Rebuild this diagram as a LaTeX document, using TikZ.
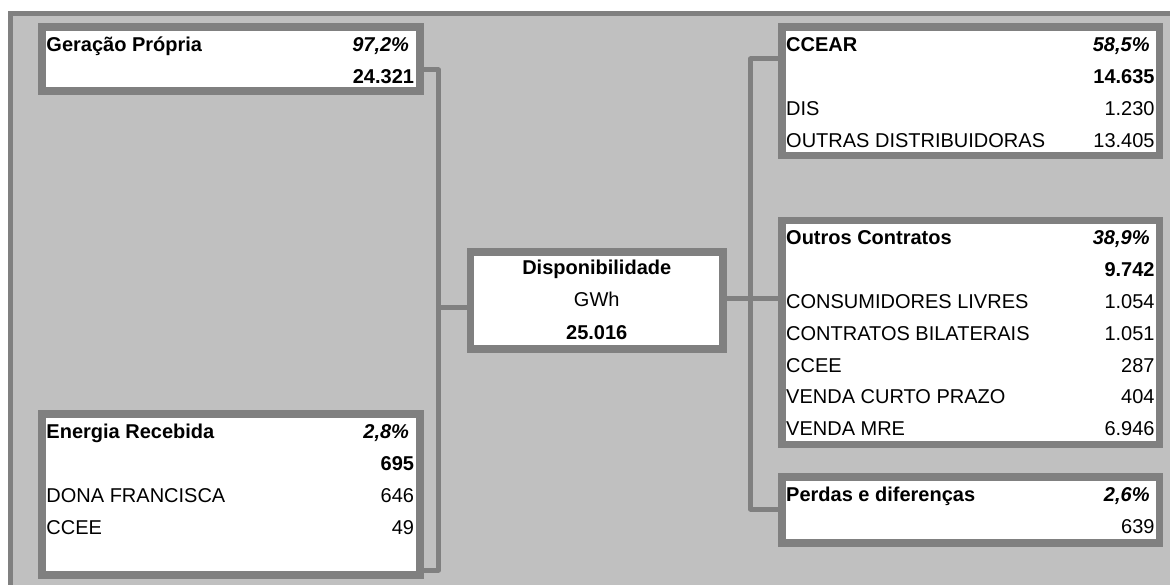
\documentclass[tikz,border=0pt]{standalone}
\usepackage{fontspec}
\setmainfont{Liberation Sans}
\usepackage{tikz}
\definecolor{rim}{HTML}{808080}
\definecolor{panel}{HTML}{C0C0C0}
\newcommand{\pct}[1]{\textbf{\textit{#1}}\kern5pt}

\begin{document}
\begin{tikzpicture}[x=1pt, y=-1pt,
  box/.style={draw=rim, line width=7.5pt, fill=white, anchor=north west, inner sep=0pt, outer sep=0pt},
  lcell/.style={anchor=base west, inner sep=0pt, font=\fontsize{20}{24}\selectfont},
  rcell/.style={anchor=base east, inner sep=0pt, font=\fontsize{20}{24}\selectfont},
  ccell/.style={anchor=base, inner sep=0pt, font=\fontsize{20}{24}\selectfont},
  conn/.style={draw=rim, line width=5pt, line cap=round, line join=round}
]
  \useasboundingbox (0,0) rectangle (1170,585);

  % Panel
  \fill[panel] (10.8,13.5) rectangle (1175,590);
  \draw[rim, line width=5pt] (10.8,590) -- (10.8,13.5) -- (1175,13.5);

  % Left boxes
  \node[box, minimum width=378.2pt, minimum height=64.2pt] (ger) at (42,27) {};
  \node[box, minimum width=378.2pt, minimum height=161pt] (ene) at (42,413.75) {};

  % Centre
  \node[box, minimum width=252.5pt, minimum height=97pt] (disp) at (470.5,252) {};

  % Right boxes
  \node[box, minimum width=377.5pt, minimum height=128.5pt] (ccear) at (781.75,27) {};
  \node[box, minimum width=377.5pt, minimum height=224pt] (outros) at (781.75,220.5) {};
  \node[box, minimum width=377.5pt, minimum height=66pt] (perdas) at (781.75,477) {};

  % Rows
  \foreach \lt/\rt [count=\i] in {{\textbf{Geração Própria}}/{\pct{97,2\%}}, {}/{\textbf{24.321}}} {
    \node[lcell] (ger-l\i) at ([xshift=4.25pt, yshift={-24.3pt-32pt*(\i-1)}]ger.north west) {\lt};
    \node[rcell] (ger-r\i) at ([xshift=-6pt, yshift={-24.3pt-32pt*(\i-1)}]ger.north east) {\rt};
  }
  \foreach \lt/\rt [count=\i] in {{\textbf{Energia Recebida}}/{\pct{2,8\%}}, {}/{\textbf{695}},
      DONA FRANCISCA/646, CCEE/49} {
    \node[lcell] (ene-l\i) at ([xshift=4.25pt, yshift={-24.3pt-32pt*(\i-1)}]ene.north west) {\lt};
    \node[rcell] (ene-r\i) at ([xshift=-6pt, yshift={-24.3pt-32pt*(\i-1)}]ene.north east) {\rt};
  }
  \foreach \ct [count=\i] in {{\textbf{Disponibilidade}}, GWh, {\textbf{25.016}}} {
    \node[ccell] (disp-c\i) at ([yshift={-23pt-32pt*(\i-1)}]disp.north) {\ct};
  }
  \foreach \lt/\rt [count=\i] in {{\textbf{CCEAR}}/{\pct{58,5\%}}, {}/{\textbf{14.635}},
      DIS/1.230, OUTRAS DISTRIBUIDORAS/13.405} {
    \node[lcell] (ccear-l\i) at ([xshift=4.25pt, yshift={-24.3pt-32pt*(\i-1)}]ccear.north west) {\lt};
    \node[rcell] (ccear-r\i) at ([xshift=-4.5pt, yshift={-24.3pt-32pt*(\i-1)}]ccear.north east) {\rt};
  }
  \foreach \lt/\rt [count=\i] in {{\textbf{Outros Contratos}}/{\pct{38,9\%}}, {}/{\textbf{9.742}},
      CONSUMIDORES LIVRES/1.054, CONTRATOS BILATERAIS/1.051, CCEE/287,
      VENDA CURTO PRAZO/404, VENDA MRE/6.946} {
    \node[lcell] (outros-l\i) at ([xshift=4.25pt, yshift={-24.3pt-31.8pt*(\i-1)}]outros.north west) {\lt};
    \node[rcell] (outros-r\i) at ([xshift=-4.5pt, yshift={-24.3pt-31.8pt*(\i-1)}]outros.north east) {\rt};
  }
  \foreach \lt/\rt [count=\i] in {{\textbf{Perdas e diferenças}}/{\pct{2,6\%}}, {}/639} {
    \node[lcell] (perdas-l\i) at ([xshift=4.25pt, yshift={-24.3pt-32pt*(\i-1)}]perdas.north west) {\lt};
    \node[rcell] (perdas-r\i) at ([xshift=-4.5pt, yshift={-24.3pt-32pt*(\i-1)}]perdas.north east) {\rt};
  }

  % Connectors
  \coordinate (lbus) at (438.5,0);
  \coordinate (rbus) at (750.5,0);
  \coordinate (ger-out) at ([yshift=-10.9pt]ger.east);
  \coordinate (ene-out) at ([yshift=4.75pt]ene.south east);
  \coordinate (disp-in) at ([yshift=-7pt]disp.west);
  \coordinate (disp-out) at ([yshift=2pt]disp.east);
  \coordinate (ccear-in) at ([yshift=32.25pt]ccear.west);
  \coordinate (outros-in) at (outros.west |- disp-out);
  \coordinate (perdas-in) at ([yshift=1pt]perdas.west);

  \draw[conn] (ger-out) -| (lbus |- disp-in) -- (disp-in);
  \draw[conn] (ene-out) -| (lbus |- disp-in) -- (disp-in);
  \draw[conn] (disp-out) -| (rbus |- ccear-in) -- (ccear-in);
  \draw[conn] (disp-out) -- (outros-in);
  \draw[conn] (disp-out) -| (rbus |- perdas-in) -- (perdas-in);
\end{tikzpicture}
\end{document}
